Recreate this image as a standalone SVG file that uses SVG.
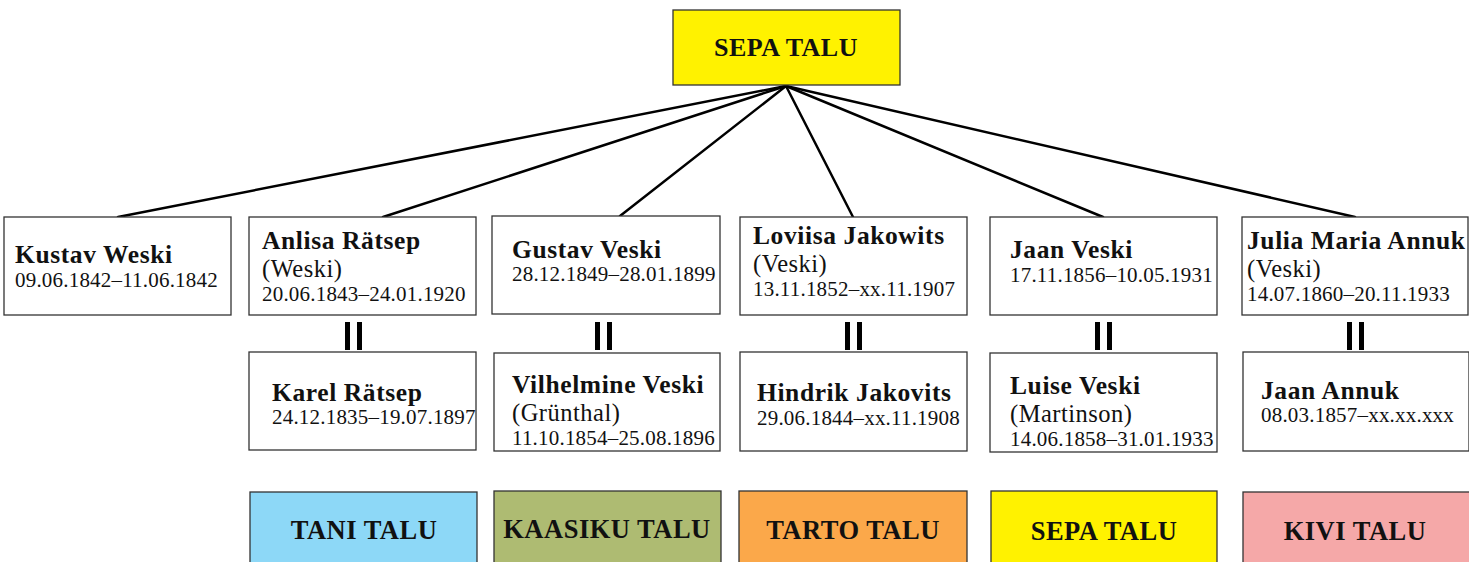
<svg xmlns="http://www.w3.org/2000/svg" width="1469" height="562" viewBox="0 0 1469 562">
<style>
.box{fill:#fff;stroke:#333;stroke-width:1.3}
.farm{stroke:#333;stroke-width:1.3}
.name{font-family:"Liberation Serif",serif;font-weight:bold;font-size:25.5px;letter-spacing:0.6px;fill:#111}
.maiden{font-family:"Liberation Serif",serif;font-size:24.5px;letter-spacing:0.5px;fill:#111}
.date{font-family:"Liberation Serif",serif;font-size:21px;letter-spacing:0.2px;fill:#111}
.farmt{font-family:"Liberation Serif",serif;font-weight:bold;font-size:26.5px;letter-spacing:0.5px;fill:#111;text-anchor:middle}
.conn{stroke:#000;stroke-width:2.5;fill:none;stroke-linecap:round}
.eq{fill:#000}
</style>
<rect width="1469" height="562" fill="#fff"/>
<g id="connectors">
<line class="conn" x1="786" y1="86" x2="118" y2="217"/>
<line class="conn" x1="786" y1="86" x2="383" y2="217"/>
<line class="conn" x1="786" y1="86" x2="620" y2="216"/>
<line class="conn" x1="786" y1="86" x2="853" y2="217"/>
<line class="conn" x1="786" y1="86" x2="1103" y2="217"/>
<line class="conn" x1="786" y1="86" x2="1355" y2="217"/>
</g>
<g id="marriages">
<rect class="eq" x="345" y="322" width="5" height="28"/><rect class="eq" x="357" y="322" width="5" height="28"/>
<rect class="eq" x="595" y="322" width="5" height="28"/><rect class="eq" x="607" y="322" width="5" height="28"/>
<rect class="eq" x="845" y="322" width="5" height="28"/><rect class="eq" x="857" y="322" width="5" height="28"/>
<rect class="eq" x="1095" y="322" width="5" height="28"/><rect class="eq" x="1107" y="322" width="5" height="28"/>
<rect class="eq" x="1347" y="322" width="5" height="28"/><rect class="eq" x="1359" y="322" width="5" height="28"/>
</g>
<g id="sepa-top">
<rect class="farm" x="673" y="10" width="227" height="75" fill="#fff200"/>
<text class="farmt" x="786" y="56" style="font-size:26px">SEPA TALU</text>
</g>
<g id="kustav">
<rect class="box" x="4" y="217" width="227" height="98"/>
<text class="name" x="15" y="263">Kustav Weski</text>
<text class="date" x="15" y="287">09.06.1842–11.06.1842</text>
</g>
<g id="anlisa">
<rect class="box" x="249" y="217" width="227" height="98"/>
<text class="name" x="262" y="249">Anlisa Rätsep</text>
<text class="maiden" x="262" y="276.5">(Weski)</text>
<text class="date" x="262" y="301">20.06.1843–24.01.1920</text>
</g>
<g id="gustav">
<rect class="box" x="492" y="216" width="228" height="98"/>
<text class="name" x="512" y="258">Gustav Veski</text>
<text class="date" x="512" y="281">28.12.1849–28.01.1899</text>
</g>
<g id="loviisa">
<rect class="box" x="740" y="217" width="227" height="98"/>
<text class="name" x="753" y="244">Loviisa Jakowits</text>
<text class="maiden" x="753" y="271.5">(Veski)</text>
<text class="date" x="753" y="296">13.11.1852–xx.11.1907</text>
</g>
<g id="jaan">
<rect class="box" x="990" y="217" width="227" height="98"/>
<text class="name" x="1010" y="258">Jaan Veski</text>
<text class="date" x="1010" y="282">17.11.1856–10.05.1931</text>
</g>
<g id="julia">
<rect class="box" x="1242" y="217" width="226" height="98"/>
<text class="name" x="1247" y="249">Julia Maria Annuk</text>
<text class="maiden" x="1247" y="276.5">(Veski)</text>
<text class="date" x="1247" y="301">14.07.1860–20.11.1933</text>
</g>
<g id="karel">
<rect class="box" x="249" y="352" width="227" height="98"/>
<text class="name" x="272" y="401">Karel Rätsep</text>
<text class="date" x="272" y="424">24.12.1835–19.07.1897</text>
</g>
<g id="vilhelmine">
<rect class="box" x="494" y="353" width="226" height="98"/>
<text class="name" x="512" y="393">Vilhelmine Veski</text>
<text class="maiden" x="512" y="420.5">(Grünthal)</text>
<text class="date" x="512" y="445">11.10.1854–25.08.1896</text>
</g>
<g id="hindrik">
<rect class="box" x="740" y="352" width="227" height="99"/>
<text class="name" x="757" y="401">Hindrik Jakovits</text>
<text class="date" x="757" y="425">29.06.1844–xx.11.1908</text>
</g>
<g id="luise">
<rect class="box" x="990" y="353" width="227" height="99"/>
<text class="name" x="1010" y="394">Luise Veski</text>
<text class="maiden" x="1010" y="421.5">(Martinson)</text>
<text class="date" x="1010" y="446">14.06.1858–31.01.1933</text>
</g>
<g id="jaan-annuk">
<rect class="box" x="1243" y="352" width="226" height="99"/>
<text class="name" x="1261" y="399">Jaan Annuk</text>
<text class="date" x="1261" y="422">08.03.1857–xx.xx.xxx</text>
</g>
<g id="tani">
<rect class="farm" x="250" y="492" width="227" height="80" fill="#8dd8f7"/>
<text class="farmt" x="364" y="539">TANI TALU</text>
</g>
<g id="kaasiku">
<rect class="farm" x="494" y="491" width="227" height="80" fill="#aebb72"/>
<text class="farmt" x="607" y="538">KAASIKU TALU</text>
</g>
<g id="tarto">
<rect class="farm" x="739" y="491" width="228" height="80" fill="#fba84a"/>
<text class="farmt" x="853" y="539">TARTO TALU</text>
</g>
<g id="sepa">
<rect class="farm" x="991" y="491" width="226" height="80" fill="#fff200"/>
<text class="farmt" x="1104" y="540">SEPA TALU</text>
</g>
<g id="kivi">
<rect class="farm" x="1243" y="492" width="227" height="80" fill="#f5a8a8"/>
<text class="farmt" x="1355" y="540">KIVI TALU</text>
</g>
</svg>
